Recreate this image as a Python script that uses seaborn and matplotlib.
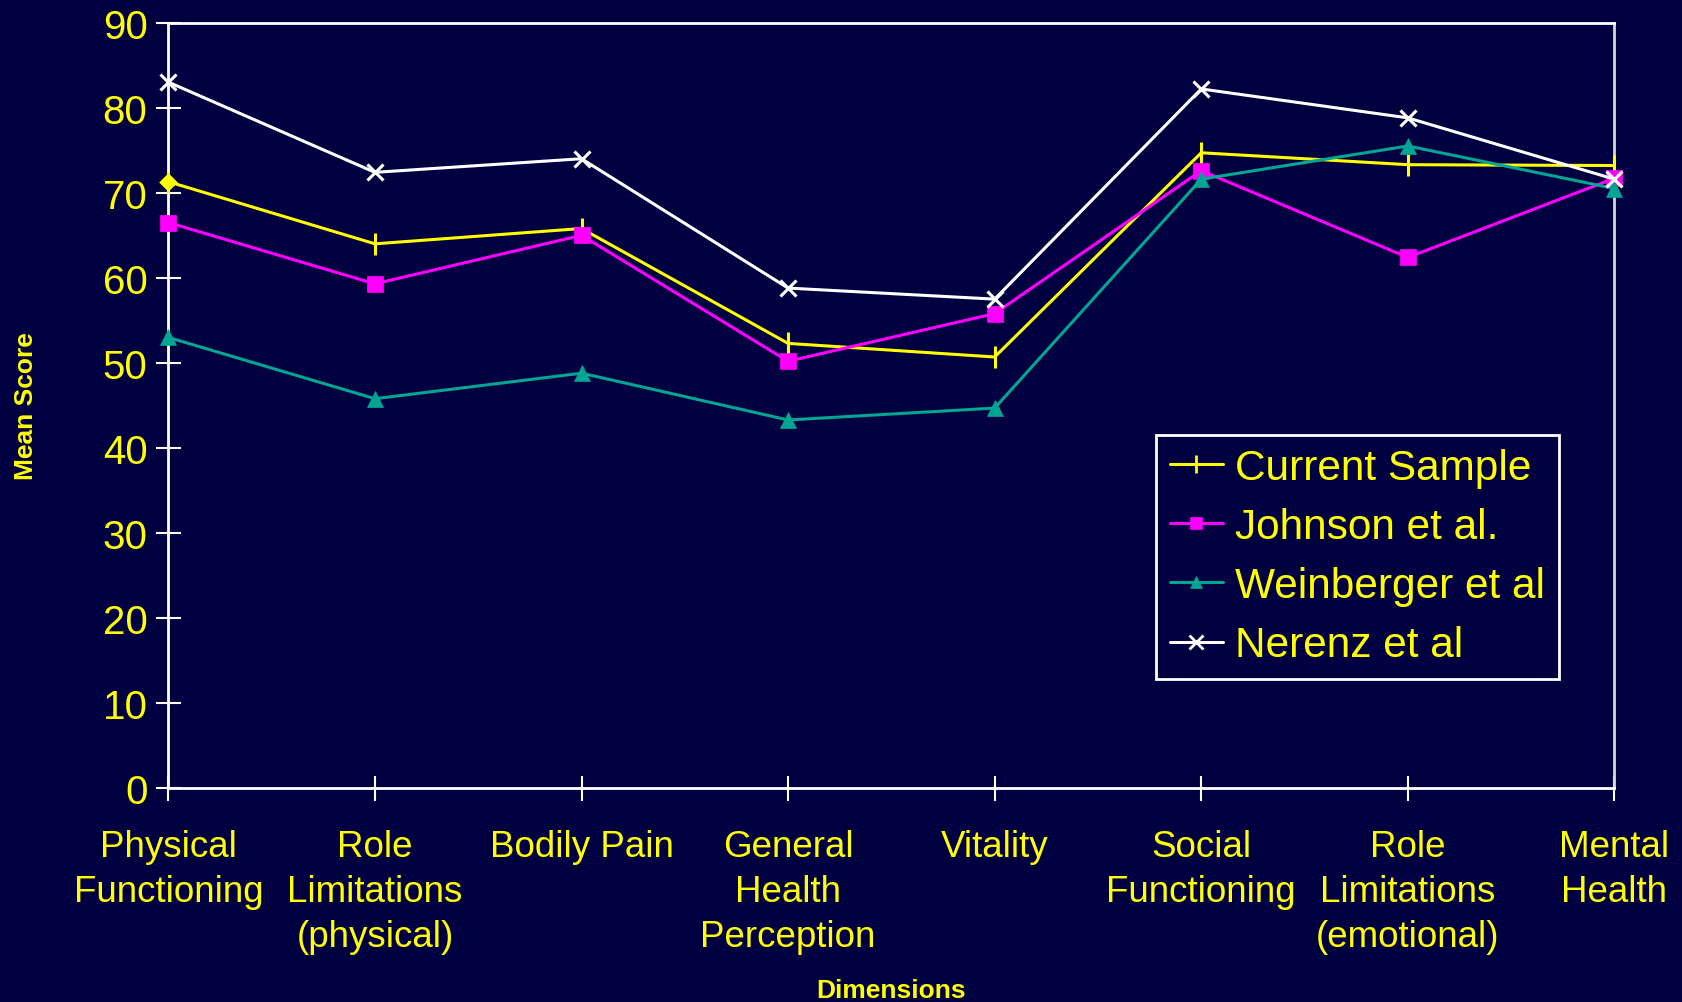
import numpy as np
import pandas as pd
import seaborn as sns
from matplotlib import pyplot as plt
from matplotlib.lines import Line2D

# SF-36 dimension labels
dimensions = [
    "Physical\nFunctioning",
    "Role\nLimitations\n(physical)",
    "Bodily Pain",
    "General\nHealth\nPerception",
    "Vitality",
    "Social\nFunctioning",
    "Role\nLimitations\n(emotional)",
    "Mental\nHealth",
]

current_sample = [71.3, 64.0, 65.8, 52.3, 50.7, 74.7, 73.3, 73.2]
johnson = [66.5, 59.3, 65.0, 50.2, 55.8, 72.6, 62.4, 71.7]
weinberger = [53.0, 45.8, 48.8, 43.3, 44.7, 71.6, 75.5, 70.5]
nerenz = [83.0, 72.4, 74.0, 58.8, 57.5, 82.2, 78.8, 71.6]

series_names = ["Current Sample", "Johnson et al.", "Weinberger et al", "Nerenz et al"]
series_values = [current_sample, johnson, weinberger, nerenz]
y_ticks = list(range(0, 91, 10))

BG = "#000040"
YELLOW = "#FFFF00"
colors = ["#FFFF00", "#FF00FF", "#00A693", "#FFFFFF"]
markers = ["|", "s", "^", "x"]
msizes = [16, 11, 11, 12]

sns.set_theme(style="white")
plt.rcParams["font.family"] = ["Liberation Sans", "DejaVu Sans"]

fig = plt.figure(figsize=(16.82, 10.03), dpi=100, facecolor=BG)
ax = fig.add_axes([0.1001, 0.2129, 0.8597, 0.7636])
ax.set_facecolor(BG)

x_pos = np.arange(len(dimensions))
for name, vals, col, mk, ms in zip(series_names, series_values, colors, markers, msizes):
    df = pd.DataFrame({"x": x_pos, "y": vals})
    sns.lineplot(data=df, x="x", y="y", ax=ax, color=col, marker=mk,
                 markersize=ms, markeredgecolor=col, markerfacecolor=col,
                 markeredgewidth=2.2 if mk in ("|", "x") else 0.5,
                 linewidth=2.2, label=name, legend=False, clip_on=False,
                 zorder=3)

# first point of current sample shows as a diamond in the original
ax.scatter(x_pos[:1], current_sample[:1], marker="D", s=90, color=YELLOW,
           zorder=5, linewidths=0, clip_on=False)

ax.set_xlim(x_pos[0], x_pos[-1])
ax.set_ylim(0, 90)
ax.set_yticks(y_ticks)
ax.set_xticks(x_pos)
ax.set_xticklabels(dimensions, linespacing=1.38)

for side in ["left", "bottom", "top", "right"]:
    ax.spines[side].set_visible(True)
    ax.spines[side].set_color("white")
    ax.spines[side].set_linewidth(2)
ax.spines["right"].set_color("#D8D8D8")

ax.tick_params(axis="both", direction="inout", length=18, width=1.5,
               color="white", labelcolor=YELLOW, left=True, bottom=True)
ax.tick_params(axis="y", pad=6, labelsize=29)
ax.tick_params(axis="x", pad=20, labelsize=26.5)

ax.set_xlabel("Dimensions", color=YELLOW, fontsize=19, fontweight="bold")
ax.set_ylabel("Mean Score", color=YELLOW, fontsize=19, fontweight="bold")
ax.xaxis.label.set_va("center")
ax.yaxis.label.set_va("center")
ax.xaxis.set_label_coords(0.5, -0.2625)
ax.yaxis.set_label_coords(-0.0985, 0.5)

leg_handles = [Line2D([], [], color=c, marker=m, markersize=s * 0.8,
                      markeredgecolor=c, markerfacecolor=c,
                      markeredgewidth=2 if m in ("|", "x") else 0.5,
                      linewidth=2.2)
               for c, m, s in zip(colors, markers, msizes)]
leg = ax.legend(leg_handles, series_names, loc="upper right",
                bbox_to_anchor=(0.9617, 0.462), borderaxespad=0,
                fontsize=30.5, frameon=True, fancybox=False,
                facecolor=BG, edgecolor="white", labelcolor=YELLOW,
                handlelength=1.25, handletextpad=0.3, labelspacing=0.45,
                borderpad=0.32)
leg.get_frame().set_linewidth(2)
leg.get_frame().set_alpha(1)

fig.savefig("out.png", dpi=100, facecolor=BG)
